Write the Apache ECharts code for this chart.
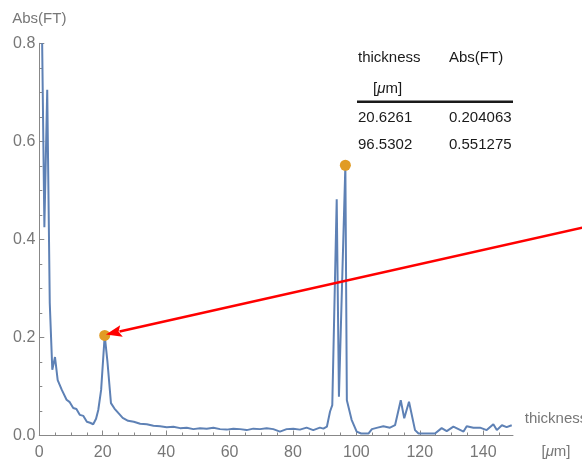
<!DOCTYPE html>
<html><head><meta charset="utf-8">
<script src="https://cdn.jsdelivr.net/npm/echarts@6/dist/echarts.min.js"></script>
<style>html,body{margin:0;padding:0;background:#fff}#c{width:582px;height:460px}</style>
</head><body><div id="c"></div><script>
const thickness = [0.9, 1.6, 2.5, 3.3, 4.1, 4.95, 5.8, 7.1, 8.6, 9.6, 10.7, 11.7, 12.8, 13.9, 15.0, 16.0, 17.0, 17.9, 18.6, 19.5, 20.6261, 21.5, 22.6, 23.7, 24.9, 26.3, 28.0, 29.8, 31.8, 33.9, 36.0, 38.1, 40.2, 42.3, 44.4, 46.5, 48.6, 50.7, 52.8, 54.9, 57.0, 59.1, 61.2, 63.3, 65.4, 67.5, 69.6, 71.7, 73.8, 75.9, 78.0, 80.1, 82.2, 84.3, 86.4, 88.5, 89.6, 90.7, 91.7, 92.4, 93.8, 94.5, 96.5302, 97.0, 98.5, 100.1, 101.5, 103.8, 104.9, 106.7, 108.5, 110.6, 112.2, 114.0, 115.1, 116.6, 118.5, 119.6, 121.5, 123.2, 124.8, 126.9, 128.5, 130.6, 132.2, 133.8, 134.8, 136.9, 139.0, 141.1, 143.2, 144.3, 145.9, 147.4, 149.0];
const absFT = [0.80, 0.425, 0.705, 0.27, 0.134, 0.160, 0.113, 0.093, 0.073, 0.068, 0.056, 0.054, 0.042, 0.040, 0.028, 0.026, 0.023, 0.034, 0.052, 0.093, 0.204063, 0.15, 0.066, 0.055, 0.046, 0.036, 0.030, 0.028, 0.024, 0.023, 0.020, 0.019, 0.017, 0.018, 0.015, 0.016, 0.013, 0.015, 0.014, 0.016, 0.013, 0.012, 0.014, 0.013, 0.011, 0.014, 0.013, 0.015, 0.013, 0.008, 0.013, 0.014, 0.012, 0.016, 0.011, 0.016, 0.014, 0.018, 0.049, 0.062, 0.482, 0.079, 0.551275, 0.072, 0.032, 0.008, 0.004, 0.004, 0.013, 0.016, 0.019, 0.016, 0.021, 0.072, 0.035, 0.069, 0.011, 0.004, 0.004, 0.004, 0.004, 0.015, 0.009, 0.018, 0.013, 0.008, 0.019, 0.016, 0.016, 0.011, 0.023, 0.011, 0.021, 0.017, 0.021];
const peakThickness = [20.6261, 96.5302];
const peakAbs = [0.204063, 0.551275];
const xMajorTicks = [0, 20, 40, 60, 80, 100, 120, 140];
const xMinorTicks = [5, 10, 15, 25, 30, 35, 45, 50, 55, 65, 70, 75, 85, 90, 95, 105, 110, 115, 125, 130, 135, 145];
const yMajorTicks = [0, 0.2, 0.4, 0.6, 0.8];
const yMinorTicks = [0.05, 0.1, 0.15, 0.25, 0.3, 0.35, 0.45, 0.5, 0.55, 0.65, 0.7, 0.75];
const arrowFrom = [171.2, 0.424];
const arrowTo = [21.0, 0.206];

const FONT = 'Liberation Sans';
const AX = '#888';
const LAB = '#777';
const chart = echarts.init(document.getElementById('c'), null, {renderer: 'canvas'});

const baseX = {type: 'value', min: 0, max: 149.4, position: 'bottom', splitLine: {show: false}};
const baseY = {type: 'value', min: 0, max: 0.8, position: 'left', splitLine: {show: false}};

const option = {
  animation: false,
  grid: {left: 39.3, right: 69, top: 43.3, bottom: 24.5, containLabel: false, outerBoundsMode: 'none'},
  xAxis: [
    Object.assign({}, baseX, {
      axisLine: {show: true, onZero: false, lineStyle: {color: AX, width: 1}},
      axisTick: {show: true, inside: true, length: 5, customValues: xMajorTicks, lineStyle: {color: AX}},
      axisLabel: {customValues: xMajorTicks, margin: 9, color: LAB, fontSize: 16, fontFamily: FONT, formatter: v => String(v)},
      name: 'thickness\n[{i|μ}m]', nameLocation: 'end', nameGap: 43,
      nameTextStyle: {color: LAB, fontSize: 15, fontFamily: FONT, align: 'center', verticalAlign: 'middle', lineHeight: 33,
        rich: {i: {fontStyle: 'italic', color: LAB, fontSize: 15, fontFamily: FONT, lineHeight: 33}}}
    }),
    Object.assign({}, baseX, {
      axisLine: {show: false, onZero: false},
      axisTick: {show: true, inside: true, length: 3, customValues: xMinorTicks, lineStyle: {color: AX}},
      axisLabel: {show: false}
    })
  ],
  yAxis: [
    Object.assign({}, baseY, {
      axisLine: {show: true, onZero: false, lineStyle: {color: AX, width: 1}},
      axisTick: {show: true, inside: true, length: 5, customValues: yMajorTicks, lineStyle: {color: AX}},
      axisLabel: {customValues: yMajorTicks, margin: 4, color: LAB, fontSize: 16, fontFamily: FONT, formatter: v => v.toFixed(1)},
      name: 'Abs(FT)', nameLocation: 'end', nameGap: 24,
      nameTextStyle: {color: LAB, fontSize: 15, fontFamily: FONT, align: 'center', verticalAlign: 'middle'}
    }),
    Object.assign({}, baseY, {
      axisLine: {show: false, onZero: false},
      axisTick: {show: true, inside: true, length: 3, customValues: yMinorTicks, lineStyle: {color: AX}},
      axisLabel: {show: false}
    })
  ],
  series: [
    {
      type: 'line', xAxisIndex: 0, yAxisIndex: 0,
      data: thickness.map((x, i) => [x, absFT[i]]),
      showSymbol: false, symbol: 'none',
      lineStyle: {color: '#5E81B5', width: 2},
      z: 2
    },
    {
      type: 'scatter', xAxisIndex: 0, yAxisIndex: 0,
      data: peakThickness.map((x, i) => [x, peakAbs[i]]),
      symbolSize: 11,
      itemStyle: {color: '#E19C24', opacity: 1},
      z: 3
    }
  ]
};
chart.setOption(option);

const colX = [358, 449];
const headY = 58, unitY = 89, rowY = [118, 145];
const F = '15px "' + FONT + '"';
const graphics = [
  {type: 'text', x: colX[0], y: headY, style: {text: 'thickness', fill: '#1a1a1a', font: F, verticalAlign: 'middle'}, z: 10},
  {type: 'text', x: colX[1], y: headY, style: {text: 'Abs(FT)', fill: '#1a1a1a', font: F, verticalAlign: 'middle'}, z: 10},
  {type: 'text', x: 373, y: unitY, style: {text: '[{i|μ}m]', fill: '#1a1a1a', font: F, verticalAlign: 'middle',
    rich: {i: {fontStyle: 'italic', fill: '#1a1a1a', fontSize: 15, fontFamily: FONT}}}, z: 10},
  {type: 'line', shape: {x1: 357, y1: 101.7, x2: 513, y2: 101.7}, style: {stroke: '#1a1a1a', lineWidth: 2.5}, z: 10}
];
peakThickness.forEach((t, i) => {
  graphics.push({type: 'text', x: colX[0], y: rowY[i], style: {text: String(t), fill: '#1a1a1a', font: F, verticalAlign: 'middle'}, z: 10});
  graphics.push({type: 'text', x: colX[1], y: rowY[i], style: {text: String(peakAbs[i]), fill: '#1a1a1a', font: F, verticalAlign: 'middle'}, z: 10});
});

const p0 = chart.convertToPixel({gridIndex: 0}, arrowFrom);
const p1 = chart.convertToPixel({gridIndex: 0}, arrowTo);
const dx = p1[0] - p0[0], dy = p1[1] - p0[1];
const L = Math.sqrt(dx * dx + dy * dy);
const ux = dx / L, uy = dy / L;
const headLen = 16, headHalf = 6;
const bx = p1[0] - ux * headLen, by = p1[1] - uy * headLen;
graphics.push({type: 'line', shape: {x1: p0[0], y1: p0[1], x2: bx + ux * 2, y2: by + uy * 2}, style: {stroke: '#FF0000', lineWidth: 2.5}, z: 20});
graphics.push({type: 'polygon', shape: {points: [
  [p1[0], p1[1]],
  [bx - uy * headHalf, by + ux * headHalf],
  [bx + ux * 3, by + uy * 3],
  [bx + uy * headHalf, by - ux * headHalf]
]}, style: {fill: '#FF0000'}, z: 20});

chart.setOption({graphic: graphics});
</script></body></html>
